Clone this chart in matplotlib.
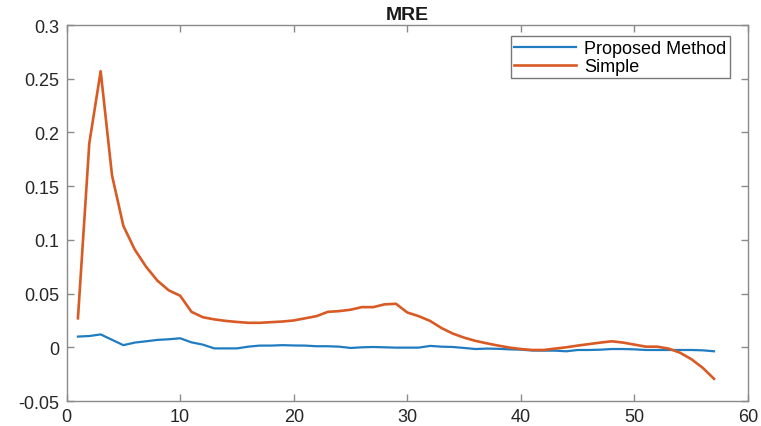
import matplotlib.pyplot as plt

plt.rcParams['font.family'] = ['Liberation Sans', 'DejaVu Sans']

# iteration index
x = list(range(1, 58))

# MRE values
proposed = [0.010, 0.0105, 0.012, 0.007, 0.002, 0.0044, 0.0056, 0.0069, 0.0075, 0.0084,
            0.0046, 0.0025, -0.001, -0.001, -0.001, 0.0006, 0.0016, 0.0016, 0.002, 0.0017,
            0.0016, 0.001, 0.001, 0.0006, -0.0006, 0.0, 0.0003, 0.0, -0.0003, -0.0003,
            -0.0003, 0.0013, 0.0006, 0.0003, -0.0006, -0.0016, -0.0012, -0.0014, -0.0019, -0.0022,
            -0.003, -0.0031, -0.0031, -0.0037, -0.0025, -0.0025, -0.0022, -0.0016, -0.0016, -0.0019,
            -0.0025, -0.0025, -0.0025, -0.0025, -0.0025, -0.0028, -0.0037]

simple = [0.027, 0.19, 0.257, 0.160, 0.113, 0.091, 0.075, 0.062, 0.053, 0.048,
          0.033, 0.028, 0.026, 0.0246, 0.0236, 0.0228, 0.0228, 0.0234, 0.024, 0.025,
          0.027, 0.029, 0.033, 0.0337, 0.035, 0.0374, 0.0374, 0.040, 0.0405, 0.0324,
          0.029, 0.0246, 0.018, 0.0128, 0.009, 0.006, 0.0037, 0.0016, -0.0003, -0.0016,
          -0.0025, -0.0025, -0.0012, 0.0, 0.0016, 0.003, 0.0044, 0.0056, 0.0044, 0.0025,
          0.0006, 0.0006, -0.0012, -0.005, -0.011, -0.019, -0.0293]

fig = plt.figure(figsize=(7.61, 4.27), dpi=100)
ax = fig.add_axes([0.0875, 0.0585, 0.8955, 0.8805])

ax.plot(x, proposed, color='#1f7cc0', linewidth=1.6, label='Proposed Method')
ax.plot(x, simple, color='#d85a24', linewidth=1.9, label='Simple')

ax.set_xlim(0, 60)
ax.set_ylim(-0.05, 0.3)
ax.set_xticks([0, 10, 20, 30, 40, 50, 60])
ax.set_yticks([-0.05, 0, 0.05, 0.1, 0.15, 0.2, 0.25, 0.3])
ax.set_yticklabels(['-0.05', '0', '0.05', '0.1', '0.15', '0.2', '0.25', '0.3'])

for s in ax.spines.values():
    s.set_color('#8a8a8a')
    s.set_linewidth(1.0)
ax.tick_params(direction='in', length=5, width=1.0, color='#8a8a8a',
               top=True, right=True, labelsize=13, labelcolor='#262626', pad=5)

ax.set_title('MRE', fontsize=14, fontweight='bold', color='#1a1a1a', pad=4)

leg = ax.legend(loc='upper right', bbox_to_anchor=(0.973, 0.97), fontsize=13,
                frameon=True, fancybox=False, handlelength=3.4, borderpad=0.2,
                labelspacing=0.05, handletextpad=0.45, borderaxespad=0)
leg.get_frame().set_edgecolor('#555555')
leg.get_frame().set_linewidth(1.0)

fig.savefig('out.png', dpi=100)
